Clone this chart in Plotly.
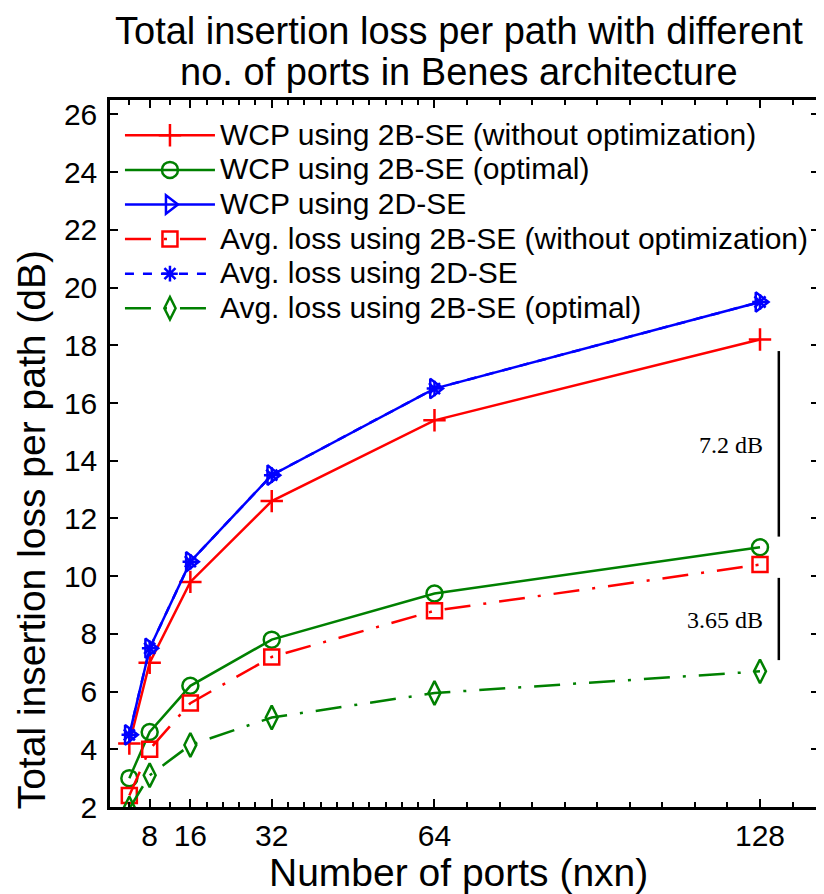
import plotly.graph_objects as go

# ---- data ----
ports = [4, 8, 16, 32, 64, 128]
wcp_2b_noopt = [4.2, 7.0, 9.8, 12.6, 15.4, 18.2]
wcp_2b_opt = [3.0, 4.6, 6.2, 7.8, 9.4, 11.0]
wcp_2d = [4.5, 7.5, 10.5, 13.5, 16.5, 19.5]
avg_2b_noopt = [2.4, 4.0, 5.6, 7.2, 8.8, 10.4]
avg_2d = [4.5, 7.5, 10.5, 13.5, 16.5, 19.5]
avg_2b_opt = [1.95, 3.1, 4.15, 5.1, 5.95, 6.7]

x_tickvals = [8, 16, 32, 64, 128]
y_tickvals = list(range(2, 27, 2))

names = [
    "WCP using 2B-SE (without optimization)",
    "WCP using 2B-SE (optimal)",
    "WCP using 2D-SE",
    "Avg. loss using 2B-SE (without optimization)",
    "Avg. loss using 2D-SE",
    "Avg. loss using 2B-SE (optimal)",
]

RED = "#FF0000"
GREEN = "#008000"
BLUE = "#0000FF"
FONT = "Liberation Sans, Arial, sans-serif"
SERIF = "Liberation Serif, Times New Roman, serif"
LW = 2.5
DASHDOT = "26px,13px,3px,13px"
LEGEND_TEXT_PX = 30


def leg(name):
    return f'<span style="font-size:{LEGEND_TEXT_PX}px">{name}</span>'


# page has an 8px body margin; layout chosen so plot area sits at x 110..822, y 100..807 on the page
W, H = 816, 886
ML, MR, MT, MB = 102, 2, 92, 87
PW, PH = W - ML - MR, H - MT - MB


def px(X):
    return (X - 8 - ML) / PW


def py(Y):
    return (H - MB - (Y - 8)) / PH


# minor ticks on x axis (as in reference)
minor_x = [4, 12] + [16 + 3.2 * i for i in range(1, 5)] + [32 + 3.2 * i for i in range(1, 10)] \
    + [64 + 6.4 * i for i in range(1, 10)] + [134.4]

fig = go.Figure()

fig.add_trace(go.Scatter(x=ports, y=wcp_2b_noopt, name=leg(names[0]), mode="lines+markers",
                         line=dict(color=RED, width=LW),
                         marker=dict(symbol="cross-thin-open", size=16, line=dict(color=RED, width=2.5))))
fig.add_trace(go.Scatter(x=ports, y=wcp_2b_opt, name=leg(names[1]), mode="lines+markers",
                         line=dict(color=GREEN, width=LW),
                         marker=dict(symbol="circle-open", size=16, line=dict(color=GREEN, width=2.5))))
fig.add_trace(go.Scatter(x=ports, y=wcp_2d, name=leg(names[2]), mode="lines+markers",
                         line=dict(color=BLUE, width=LW),
                         marker=dict(symbol="triangle-right-open", size=17, line=dict(color=BLUE, width=2.5))))
fig.add_trace(go.Scatter(x=ports, y=avg_2b_noopt, name=leg(names[3]), mode="lines+markers",
                         line=dict(color=RED, width=LW, dash=DASHDOT),
                         marker=dict(symbol="square-open", size=15, line=dict(color=RED, width=2.5))))
fig.add_trace(go.Scatter(x=ports, y=avg_2d, name=leg(names[4]), mode="lines+markers",
                         line=dict(color=BLUE, width=LW, dash="dash"),
                         marker=dict(symbol="asterisk-open", size=13, line=dict(color=BLUE, width=2.5))))
fig.add_trace(go.Scatter(x=ports, y=avg_2b_opt, name=leg(names[5]), mode="lines+markers",
                         line=dict(color=GREEN, width=LW, dash=DASHDOT),
                         marker=dict(symbol="diamond-tall-open", size=17, line=dict(color=GREEN, width=2.5))))

# annotation bars
fig.add_shape(type="line", xref="x", yref="y", x0=131.7, x1=131.7, y0=11.37, y1=17.8,
              line=dict(color="black", width=2.5))
fig.add_shape(type="line", xref="x", yref="y", x0=131.7, x1=131.7, y0=7.09, y1=9.94,
              line=dict(color="black", width=2.5))
fig.add_annotation(x=128, y=14.56, xref="x", yref="y", text="7.2 dB", showarrow=False,
                   xanchor="right", yanchor="middle", xshift=5,
                   font=dict(family=SERIF, size=24, color="black"))
fig.add_annotation(x=128, y=8.48, xref="x", yref="y", text="3.65 dB", showarrow=False,
                   xanchor="right", yanchor="middle", xshift=5,
                   font=dict(family=SERIF, size=24, color="black"))

# titles as annotations at reference pixel positions
fig.add_annotation(x=px(460), y=py(31), xref="paper", yref="paper",
                   text="Total insertion loss per path with different", showarrow=False,
                   xanchor="center", yanchor="middle", font=dict(family=FONT, size=38, color="black"))
fig.add_annotation(x=px(460), y=py(72), xref="paper", yref="paper",
                   text="no. of ports in Benes architecture", showarrow=False,
                   xanchor="center", yanchor="middle", font=dict(family=FONT, size=38, color="black"))
fig.add_annotation(x=px(460), y=py(872), xref="paper", yref="paper",
                   text="Number of ports (nxn)", showarrow=False,
                   xanchor="center", yanchor="middle", font=dict(family=FONT, size=39, color="black"))
fig.add_annotation(x=px(31), y=py(530), xref="paper", yref="paper",
                   text="Total insertion loss per path (dB)", showarrow=False, textangle=-90,
                   xanchor="center", yanchor="middle", font=dict(family=FONT, size=39, color="black"))

fig.update_layout(
    width=W, height=H,
    margin=dict(l=ML, r=MR, t=MT, b=MB),
    paper_bgcolor="white", plot_bgcolor="white",
    font=dict(family=FONT, color="black"),
    showlegend=True,
    legend=dict(x=px(120), y=py(113), xanchor="left", yanchor="top",
                bgcolor="rgba(0,0,0,0)", borderwidth=0,
                font=dict(family=FONT, size=24.3, color="black"),
                itemwidth=90, tracegroupgap=0),
    xaxis=dict(range=[0.2, 139.6], tickmode="array", tickvals=x_tickvals,
               ticks="inside", ticklen=8, tickwidth=2, tickcolor="black",
               showline=True, linewidth=2.5, linecolor="black", mirror="ticks",
               showgrid=False, zeroline=False,
               tickfont=dict(family=FONT, size=30, color="black"),
               minor=dict(tickmode="array", tickvals=minor_x, ticks="inside", ticklen=5,
                          tickwidth=2, tickcolor="black", showgrid=False)),
    yaxis=dict(range=[2, 26.5], tickmode="array", tickvals=y_tickvals,
               ticks="inside", ticklen=8, tickwidth=2, tickcolor="black",
               showline=True, linewidth=2.5, linecolor="black", mirror="ticks",
               showgrid=False, zeroline=False, ticklabelstandoff=4,
               tickfont=dict(family=FONT, size=30, color="black")),
)

fig.write_html("out.html")
